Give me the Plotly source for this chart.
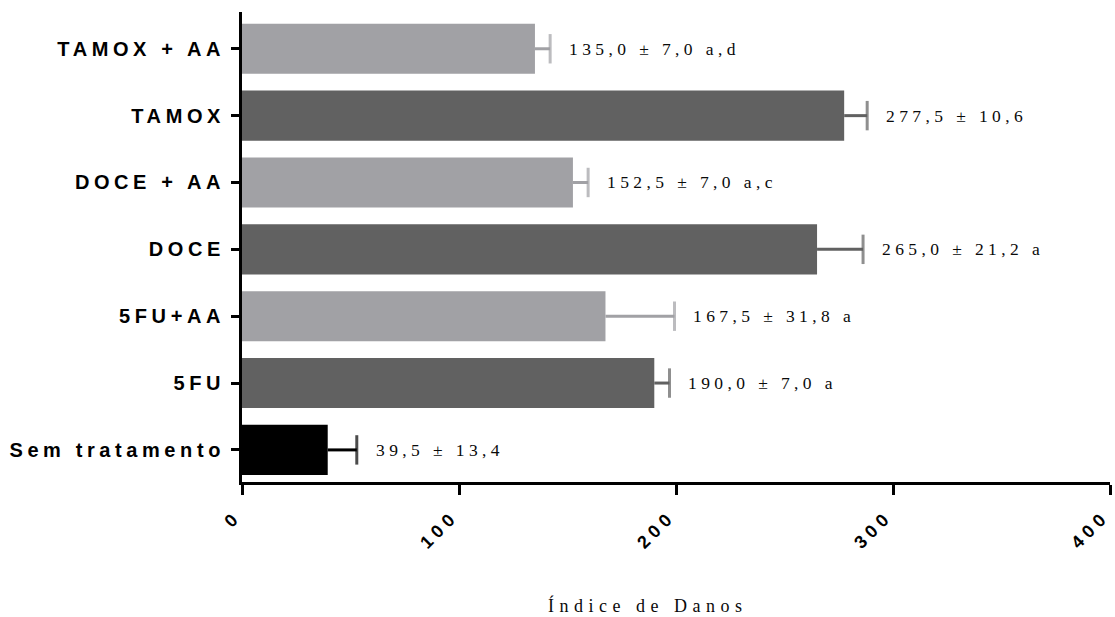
import plotly.graph_objects as go

# Damage index per treatment group (mean ± SD), listed bottom to top
groups = ["Sem tratamento", "5FU", "5FU+AA", "DOCE", "DOCE + AA", "TAMOX", "TAMOX + AA"]
means = [39.5, 190.0, 167.5, 265.0, 152.5, 277.5, 135.0]
sds = [13.4, 7.0, 31.8, 21.2, 7.0, 10.6, 7.0]
sig_letters = ["", "a", "a", "a", "a,c", "", "a,d"]
x_ticks = [0, 100, 200, 300, 400]

BLACK = "#000000"
DARK = "#616161"
LIGHT = "#a1a1a5"
bar_colors = [BLACK, DARK, LIGHT, DARK, LIGHT, DARK, LIGHT]

SANS = "Liberation Sans, Arial, sans-serif"
SERIF = "Liberation Serif, Times New Roman, serif"


def spaced(text, px):
    return f'<span style="letter-spacing:{px}px">{text}</span>'


def fmt(v):
    return f"{v:.1f}".replace(".", ",")


fig = go.Figure()

for g, m, s, c in zip(groups, means, sds, bar_colors):
    fig.add_trace(go.Bar(
        y=[g], x=[m], orientation="h",
        marker=dict(color=c, line=dict(width=0)),
        width=0.75,
        showlegend=False, hoverinfo="skip",
    ))
    # one-sided SD whisker: stem from the bar end, capped at mean + SD
    fig.add_trace(go.Scatter(
        y=[g, g], x=[m, m + s], mode="lines+markers",
        line=dict(color=c, width=3),
        marker=dict(symbol="line-ns", size=[0, 21],
                    line=dict(color=c, width=3)),
        showlegend=False, hoverinfo="skip",
    ))

# mean ± SD labels to the right of each whisker
for g, m, s, lt in zip(groups, means, sds, sig_letters):
    label = f"{fmt(m)} ± {fmt(s)}" + (f" {lt}" if lt else "")
    fig.add_annotation(
        x=m + s, y=g, xref="x", yref="y",
        text=spaced(label, 4.4), showarrow=False,
        xanchor="left", yanchor="middle", xshift=17,
        font=dict(family=SERIF, size=17.5, color="#0a0a0a"),
    )

# axis title, drawn as a free annotation below the rotated tick labels
fig.add_annotation(
    x=0.467, y=-0.262, xref="paper", yref="paper",
    text=spaced("Índice de Danos", 5.5), showarrow=False,
    xanchor="center", yanchor="middle",
    font=dict(family=SERIF, size=18, color="#0a0a0a"),
)

fig.update_layout(
    width=1115, height=617,
    margin=dict(l=242, r=5, t=12, b=135, autoexpand=False),
    paper_bgcolor="white", plot_bgcolor="white",
    barmode="overlay",
    xaxis=dict(
        range=[0, 400], tickvals=x_ticks,
        ticktext=[spaced(str(v), 5) for v in x_ticks],
        tickangle=-45, ticklabeloverflow="allow", automargin=False,
        ticklabelshift=-6, ticklabelstandoff=4,
        showgrid=False, zeroline=False,
        showline=True, linecolor="black", linewidth=3,
        ticks="outside", ticklen=10, tickwidth=3, tickcolor="black",
        tickfont=dict(family=SANS, size=18, color="black", weight="bold"),
    ),
    yaxis=dict(
        type="category", categoryorder="array", categoryarray=groups,
        range=[-0.48, 6.55], automargin=False,
        tickvals=groups, ticktext=[spaced(g, 4.6) for g in groups],
        ticklabelstandoff=2,
        showgrid=False, zeroline=False,
        showline=True, linecolor="black", linewidth=3,
        ticks="outside", ticklen=8, tickwidth=3, tickcolor="black",
        tickfont=dict(family=SANS, size=20, color="black", weight="bold"),
    ),
)

fig.write_html("out.html")
